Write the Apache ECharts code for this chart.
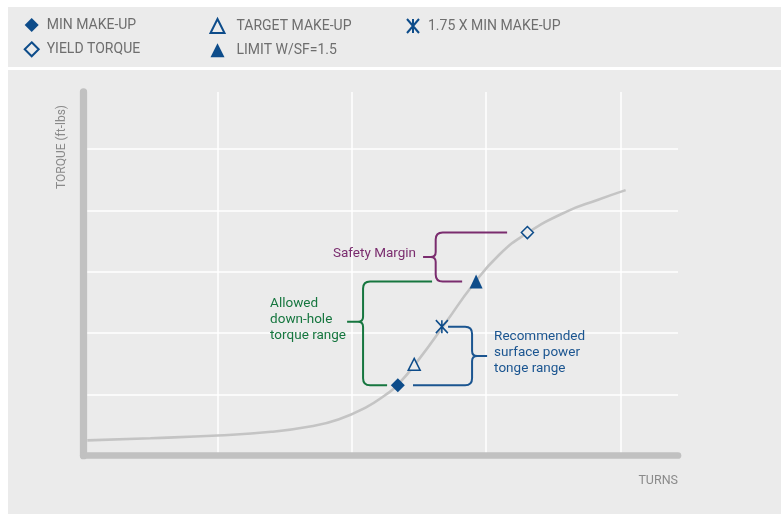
<!DOCTYPE html>
<html>
<head>
<meta charset="utf-8">
<script src="https://cdn.jsdelivr.net/npm/echarts@6/dist/echarts.min.js"></script>
<style>
html,body{margin:0;padding:0;background:#fff;}
#chart{width:781px;height:514px;}
</style>
</head>
<body>
<div id="chart"></div>
<script>
// ---- data ----
const curveTurns  = [0.03, 0.5, 1.0, 1.4, 1.7, 1.9, 2.1, 2.25, 2.34, 2.5, 2.7, 2.9, 3.1, 3.3, 3.6, 3.83, 4.04];
const curveTorque = [0.25, 0.285, 0.33, 0.39, 0.48, 0.59, 0.78, 0.99, 1.15, 1.57, 2.17, 2.78, 3.28, 3.62, 3.98, 4.17, 4.33];

const markerNames  = ['MIN MAKE-UP', 'TARGET MAKE-UP', '1.75 X MIN MAKE-UP', 'YIELD TORQUE', 'LIMIT W/SF=1.5'];
const markerTurns  = [2.343, 2.465, 2.671, 3.308, 2.926];
const markerTorque = [1.148, 1.49, 2.104, 3.638, 2.84];

const annotationTexts = ['Allowed\ndown-hole\ntorque range', 'Safety Margin', 'Recommended\nsurface power\ntonge range'];
const yTitle = 'TORQUE (ft-lbs)';
const xTitle = 'TURNS';

// ---- styles / layout ----
const BLUE = '#0d4c8a';
const BG = '#ebebeb';
const FONT = 'Roboto';

// brackets: ranges come from marker values; positions are layout in axis units
const brackets = [
  {text: annotationTexts[0], color: '#16763f', yLow: markerTorque[0], yHigh: markerTorque[4],
   vx: 2.084, topEnd: 2.598, botEnd: 2.263, nubEnd: 1.965, nubY: 2.186, side: 1, align: 'left', dx: -77, dy: -2},
  {text: annotationTexts[1], color: '#7a2c6e', yLow: markerTorque[4], yHigh: markerTorque[3],
   vx: 2.625, topEnd: 3.157, botEnd: 2.822, nubEnd: 2.531, nubY: null, side: 1, align: 'right', dx: -7, dy: -3},
  {text: annotationTexts[2], color: '#1b5590', yLow: markerTorque[0], yHigh: markerTorque[2],
   vx: 2.896, topEnd: 2.717, botEnd: 2.456, nubEnd: 3.008, nubY: null, side: -1, align: 'left', dx: 7, dy: -3.5}
];

function renderBracket(params, api) {
  const b = brackets[params.dataIndex];
  const s = b.side;
  const top = api.coord([b.vx, b.yHigh]);
  const bot = api.coord([b.vx, b.yLow]);
  const vx = top[0], ty = top[1], by = bot[1];
  const tx = api.coord([b.topEnd, b.yHigh])[0];
  const bx = api.coord([b.botEnd, b.yLow])[0];
  const ny = b.nubY != null ? api.coord([b.vx, b.nubY])[1] : (ty + by) / 2;
  const nx = api.coord([b.nubEnd, b.yLow])[0];
  const r = 7, r2 = 5;
  const p = 'M' + tx + ',' + ty + ' L' + (vx + s * r) + ',' + ty +
    ' Q' + vx + ',' + ty + ' ' + vx + ',' + (ty + r) +
    ' L' + vx + ',' + (ny - r2) +
    ' Q' + vx + ',' + ny + ' ' + (vx - s * r2) + ',' + ny +
    ' M' + (vx - s * r2) + ',' + ny +
    ' Q' + vx + ',' + ny + ' ' + vx + ',' + (ny + r2) +
    ' L' + vx + ',' + (by - r) +
    ' Q' + vx + ',' + by + ' ' + (vx + s * r) + ',' + by +
    ' L' + bx + ',' + by +
    ' M' + (vx - s * r2) + ',' + ny + ' L' + nx + ',' + ny;
  return {
    type: 'group',
    children: [
      {type: 'path', shape: {pathData: p}, style: {stroke: b.color, lineWidth: 2, fill: 'none'}},
      {type: 'text', x: nx + b.dx, y: ny + b.dy,
       style: {text: b.text, fill: b.color, fontSize: 13.5, fontFamily: FONT,
               align: b.align, verticalAlign: 'middle', lineHeight: 16}}
    ]
  };
}

const markerStyles = [
  {symbol: 'diamond', size: [14, 14], itemStyle: {color: BLUE, opacity: 1}},
  {symbol: 'triangle', size: [12, 12], itemStyle: {color: BG, borderColor: BLUE, borderWidth: 1.5, opacity: 1}},
  {symbol: 'path://M0,0 L12,14 M12,0 L0,14 M6,0 L6,14', size: [12, 13], itemStyle: {color: BLUE, borderColor: BLUE, borderWidth: 1.6, opacity: 1}},
  {symbol: 'diamond', size: [12, 12], itemStyle: {color: BG, borderColor: BLUE, borderWidth: 1.5, opacity: 1}},
  {symbol: 'triangle', size: [13, 14], itemStyle: {color: BLUE, opacity: 1}}
];

const scatterSeries = markerNames.map(function (n, i) {
  return {
    type: 'scatter', name: n, z: 5,
    symbol: markerStyles[i].symbol, symbolSize: markerStyles[i].size,
    itemStyle: markerStyles[i].itemStyle,
    data: [[markerTurns[i], markerTorque[i]]]
  };
});

const legendText = {fontFamily: FONT, fontSize: 14, color: '#6e6e6e'};
function legendCol(names, left, pad) {
  return {
    data: names, orient: 'vertical', left: left, top: 18, padding: 0,
    itemWidth: 14, itemHeight: 14, itemGap: 9.3,
    selectedMode: false,
    textStyle: Object.assign({padding: [0, 0, 0, pad]}, legendText)
  };
}

const chart = echarts.init(document.getElementById('chart'), null, {renderer: 'canvas'});
chart.setOption({
  backgroundColor: '#ffffff',
  animation: false,
  graphic: [
    {type: 'rect', shape: {x: 8, y: 7, width: 773, height: 60}, style: {fill: BG}, z: -10},
    {type: 'rect', shape: {x: 8, y: 70, width: 773, height: 444}, style: {fill: BG}, z: -10},
    {type: 'text', x: 62, y: 147, rotation: Math.PI / 2,
     style: {text: yTitle, fill: '#8a8a8a', fontFamily: FONT, fontSize: 12, align: 'center', verticalAlign: 'middle'}},
    {type: 'text', x: 678, y: 481,
     style: {text: xTitle, fill: '#8a8a8a', fontFamily: FONT, fontSize: 12.5, align: 'right', verticalAlign: 'middle'}}
  ],
  legend: [
    legendCol([markerNames[0], markerNames[3]], 23.7, 3),
    legendCol([markerNames[1], markerNames[4]], 209.5, 7),
    legendCol([markerNames[2]], 406, 3)
  ],
  grid: {left: 83.3, right: 103, top: 92, bottom: 58.3, containLabel: false},
  xAxis: {
    type: 'value', min: 0, max: 4.43, interval: 1, offset: 5,
    axisLine: {show: true, lineStyle: {color: '#c1c1c1', width: 6.7}},
    axisTick: {show: false}, axisLabel: {show: false},
    splitLine: {show: true, showMaxLine: false, lineStyle: {color: '#ffffff', width: 1.5}}
  },
  yAxis: {
    type: 'value', min: 0, max: 5.93, interval: 1, offset: 3,
    axisLine: {show: true, lineStyle: {color: '#c1c1c1', width: 7.3}},
    axisTick: {show: false}, axisLabel: {show: false},
    splitLine: {show: true, showMaxLine: false, lineStyle: {color: '#ffffff', width: 1.5}}
  },
  series: [
    {
      type: 'line', name: 'curve', smooth: 0.5, symbol: 'none', z: 2,
      lineStyle: {color: '#c4c4c4', width: 2.6},
      data: curveTurns.map(function (t, i) { return [t, curveTorque[i]]; })
    },
    {
      type: 'custom', name: 'brackets', z: 3, clip: false,
      renderItem: renderBracket,
      data: brackets.map(function (b) { return [b.vx, b.yLow]; })
    }
  ].concat(scatterSeries)
});
</script>
</body>
</html>
